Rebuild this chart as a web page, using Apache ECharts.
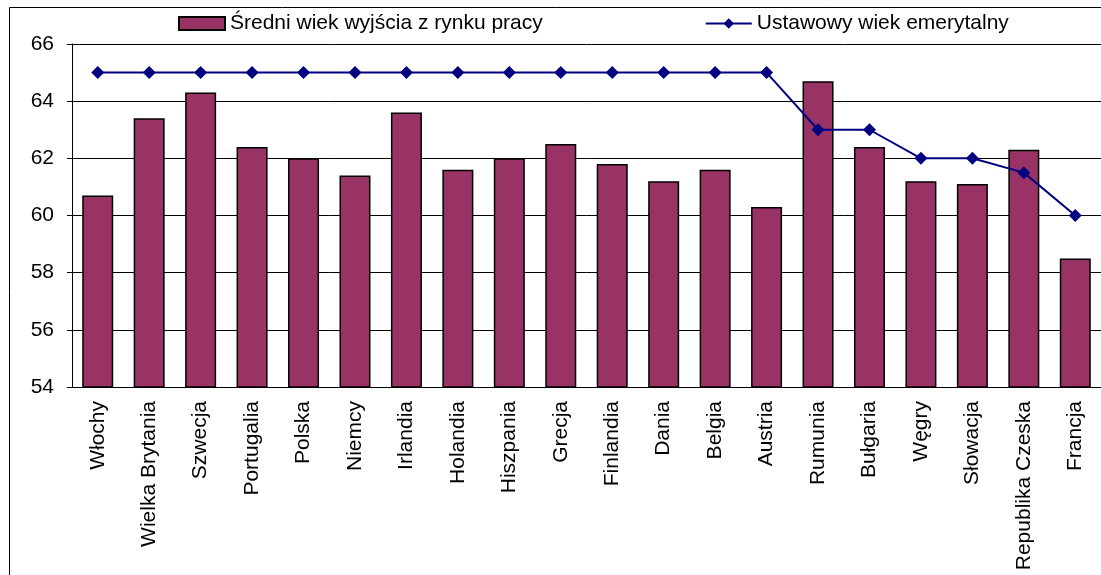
<!DOCTYPE html>
<html>
<head>
<meta charset="utf-8">
<script src="https://cdn.jsdelivr.net/npm/echarts@6/dist/echarts.min.js"></script>
<style>
  html, body { margin: 0; padding: 0; background: #fff; }
  #chart { width: 1101px; height: 575px; }
</style>
</head>
<body>
<div id="chart"></div>
<script>
const countries = ['Włochy', 'Wielka Brytania', 'Szwecja', 'Portugalia', 'Polska', 'Niemcy', 'Irlandia',
  'Holandia', 'Hiszpania', 'Grecja', 'Finlandia', 'Dania', 'Belgia', 'Austria', 'Rumunia', 'Bułgaria',
  'Węgry', 'Słowacja', 'Republika Czeska', 'Francja'];
const exitAge = [60.7, 63.4, 64.3, 62.4, 62.0, 61.4, 63.6, 61.6, 62.0, 62.5, 61.8, 61.2, 61.6, 60.3, 64.7,
  62.4, 61.2, 61.1, 62.3, 58.5];
const statutoryAge = [65, 65, 65, 65, 65, 65, 65, 65, 65, 65, 65, 65, 65, 65, 63, 63, 62, 62, 61.5, 60];
const yTicks = {min: 54, max: 66, step: 2};

const font = "'Liberation Sans', Arial, sans-serif";

const chart = echarts.init(document.getElementById('chart'));
chart.setOption({
    animation: false,
    textStyle: {fontFamily: font},
    graphic: [{
        type: 'rect',
        shape: {x: 9.5, y: 7.5, width: 1300, height: 800},
        style: {fill: 'none', stroke: '#000', lineWidth: 1},
        silent: true,
    }],
    legend: {
        top: 8,
        left: 173,
        itemGap: 162,
        itemWidth: 46,
        itemHeight: 13,
        textStyle: {fontSize: 21, color: '#000', fontFamily: font},
        data: [
            {name: 'Średni wiek wyjścia z rynku pracy', icon: 'rect'},
            {name: 'Ustawowy wiek emerytalny'},
        ],
    },
    grid: {left: 72, top: 44, width: 1038, height: 343},
    xAxis: {
        type: 'category',
        data: countries,
        axisLine: {lineStyle: {color: '#000', width: 1}},
        axisTick: {length: 6, lineStyle: {color: '#000'}},
        axisLabel: {rotate: 90, margin: 14, fontSize: 21, color: '#000', fontFamily: font, interval: 0},
    },
    yAxis: {
        type: 'value',
        min: yTicks.min,
        max: yTicks.max,
        interval: yTicks.step,
        axisLine: {show: true, lineStyle: {color: '#000', width: 1}},
        axisTick: {show: true, length: 5, lineStyle: {color: '#000'}},
        axisLabel: {margin: 18, fontSize: 21, color: '#000', fontFamily: font},
        splitLine: {lineStyle: {color: '#000', width: 1}},
    },
    series: [
        {
            name: 'Średni wiek wyjścia z rynku pracy',
            type: 'bar',
            data: exitAge,
            barWidth: 31,
            itemStyle: {color: '#993366', borderColor: '#000', borderWidth: 1.5},
        },
        {
            name: 'Ustawowy wiek emerytalny',
            type: 'line',
            data: statutoryAge,
            symbol: 'diamond',
            symbolSize: 13,
            lineStyle: {color: '#000080', width: 2},
            itemStyle: {color: '#000080'},
            z: 5,
        },
    ],
});
</script>
</body>
</html>
